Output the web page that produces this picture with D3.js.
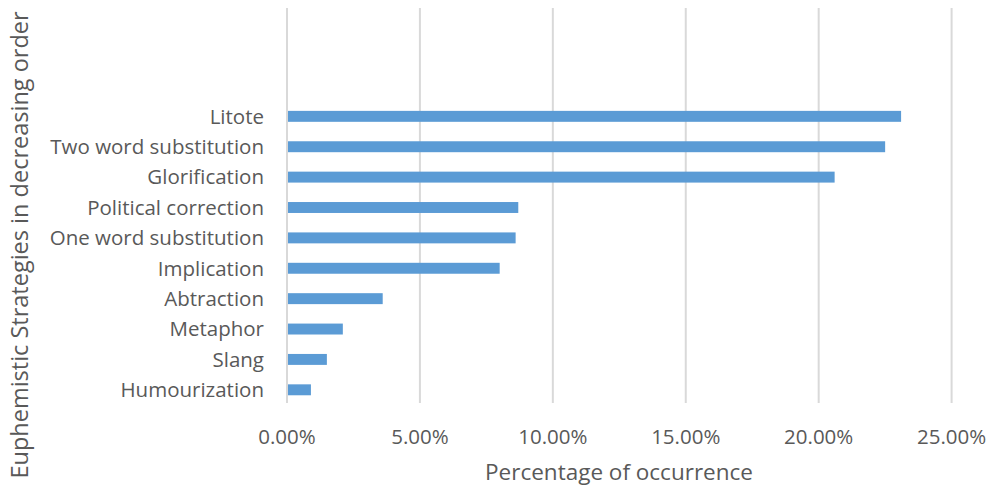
<!DOCTYPE html>
<html><head><meta charset="utf-8">
<script src="https://cdn.jsdelivr.net/npm/d3@7"></script>
<style>body{margin:0;background:#fff}svg{display:block}text{font-family:"Open Sans",sans-serif;fill:#595959}</style>
</head><body><svg id="c" width="999" height="487"></svg>
<script>
const categories = ["Litote","Two word substitution","Glorification","Political correction","One word substitution","Implication","Abtraction","Metaphor","Slang","Humourization"];
const values = [0.231,0.225,0.206,0.087,0.086,0.080,0.036,0.021,0.015,0.009];
const xTicks = [0,0.05,0.10,0.15,0.20,0.25];
const emptySlots = ["_e1","_e2","_e3"];
const xTitle = "Percentage of occurrence";
const yTitle = "Euphemistic Strategies in decreasing order";

const svg = d3.select("#c");
const x = d3.scaleLinear().domain([0,0.25]).range([287,951.6]);
const y = d3.scaleBand().domain([...emptySlots, ...categories]).range([10,405]).paddingInner(0.64).paddingOuter(0.32);

svg.append("g").selectAll("line").data(xTicks).join("line")
  .attr("x1",d=>x(d)).attr("x2",d=>x(d)).attr("y1",8).attr("y2",403)
  .attr("stroke","#d9d9d9").attr("stroke-width",2);

svg.append("g").selectAll("rect").data(categories).join("rect")
  .attr("x",x(0)+1).attr("y",d=>y(d)).attr("height",y.bandwidth())
  .attr("width",(d,i)=>x(values[i])-x(0)-1).attr("fill","#5b9bd5");

svg.append("g").selectAll("text").data(categories).join("text")
  .attr("x",264).attr("y",d=>y(d)+y.bandwidth()/2).attr("dy","0.36em")
  .attr("text-anchor","end").attr("font-size",20.5).text(d=>d);

svg.append("g").selectAll("text").data(xTicks).join("text")
  .attr("x",d=>x(d)).attr("y",437).attr("dy","0.36em").attr("text-anchor","middle")
  .attr("font-size",20.5).text(d=>d3.format(".2%")(d));

svg.append("text").attr("x",619).attr("y",472).attr("dy","0.36em").attr("text-anchor","middle")
  .attr("font-size",22.5).text(xTitle);
svg.append("text").attr("transform","translate(20,245) rotate(-90)").attr("dy","0.36em")
  .attr("text-anchor","middle").attr("font-size",23.5).text(yTitle);
</script></body></html>
